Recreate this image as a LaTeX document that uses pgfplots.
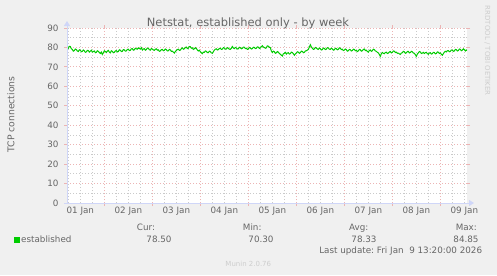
\documentclass[border=0pt]{standalone}
\usepackage{fontspec}
\setmainfont{DejaVu Sans}
\usepackage{pgfplots}
\pgfplotsset{compat=1.18}
\usetikzlibrary{arrows.meta}
\definecolor{bg}{HTML}{F0F0F0}
\definecolor{fontc}{HTML}{666666}
\definecolor{axisc}{HTML}{CFD6F8}
\definecolor{mgrid}{HTML}{ECB4B4}
\definecolor{gridc}{HTML}{CACACA}
\definecolor{linec}{HTML}{00CC00}
\definecolor{wm}{HTML}{CDCDCD}
\begin{document}
\begin{tikzpicture}[x=1bp,y=1bp]
\fill[bg] (0,0) rectangle (497,275);
\begin{axis}[at={(67bp,72bp)}, anchor=south west, scale only axis,
  width=400bp, height=175bp,
  xmin=5.3333, xmax=205.3333, ymin=0, ymax=90,
  axis background/.style={fill=white},
  axis line style={draw=none},
  /pgf/number format/assume math mode=true,
  ticklabel style={font=\fontsize{8.8}{10}\selectfont, text=fontc},
  xtick={24,48,72,96,120,144,168,192}, xticklabels={},
  minor xtick={6,12,...,204},
  extra x ticks={12,36,60,84,108,132,156,180,204},
  extra x tick labels={01 Jan,02 Jan,03 Jan,04 Jan,05 Jan,06 Jan,07 Jan,08 Jan,09 Jan},
  extra x tick style={grid=none, major tick length=0pt},
  ytick={0,10,...,90}, minor ytick={5,15,...,85},
  xmajorgrids=true, ymajorgrids=true, xminorgrids=true, yminorgrids=true,
  major grid style={mgrid, line width=0.8bp, dash pattern=on 1bp off 2bp},
  minor grid style={gridc, line width=0.8bp, dash pattern=on 1bp off 2bp},
  tick align=outside, major tick length=3bp, minor tick length=0pt,
  tick style={mgrid, line width=1bp, solid},
  yticklabel style={anchor=east, xshift=-2bp},
]
\addplot[linec, line width=1bp] coordinates {
(5.333,78.6)(5.5,79.2)(6,79.5)(6.5,80.6)(7,80.5)(7.5,79.3)(8,79.0)(8.5,78.1)(9,78.4)(9.5,79.2)(10,78.9)(10.5,78.2)(11,77.9)(11.5,78.8)(12,78.6)(12.5,77.8)(13,78.0)(13.5,78.7)(14,78.3)
(14.5,77.5)(15,77.7)(15.5,78.5)(16,78.4)(16.5,77.6)(17,78.1)(17.5,78.6)(18,77.6)(18.5,77.9)(19,78.2)(19.5,77.3)(20,77.5)(20.5,78.3)(21,78.0)(21.5,77.4)(22,76.9)(22.5,77.6)(23,76.4)(23.5,77.2)(24,78.3)
(24.5,77.9)(25,77.4)(25.5,78.1)(26,78.5)(26.5,77.6)(27,77.2)(27.5,78.3)(28,78.0)(28.5,77.3)(29,77.5)(29.5,78.2)(30,78.4)(30.5,77.7)(31,77.9)(31.5,78.8)(32,78.6)(32.5,77.9)(33,78.0)(33.5,78.9)(34,78.8)
(34.5,78.1)(35,78.2)(35.5,79.0)(36,79.1)(36.5,78.4)(37,78.5)(37.5,79.3)(38,79.4)(38.5,78.6)(39,78.8)(39.5,79.6)(40,79.3)(40.5,79.1)(41,79.8)(41.5,79.4)(42,79.2)(42.5,79.9)(43,78.7)(43.5,79.2)(44,79.4)
(44.5,78.6)(45,78.9)(45.5,79.7)(46,79.5)(46.5,78.9)(47,78.6)(47.5,79.4)(48,79.2)(48.5,78.7)(49,78.5)(49.5,79.1)(50,79.3)(50.5,78.6)(51,78.8)(51.5,78.0)(52,78.2)(52.5,78.9)(53,79.0)(53.5,78.3)(54,78.5)
(54.5,79.2)(55,78.9)(55.5,78.2)(56,78.3)(56.5,79.0)(57,78.7)(57.5,78.0)(58,78.1)(58.5,77.6)(59,77.1)(59.5,77.9)(60,78.4)(60.5,78.9)(61,79.1)(61.5,78.5)(62,78.6)(62.5,79.4)(63,79.8)(63.5,79.1)(64,79.3)
(64.5,80.0)(65,80.2)(65.5,79.4)(66,79.6)(66.5,80.5)(67,80.4)(67.5,79.6)(68,79.8)(68.5,79.0)(69,79.3)(69.5,79.9)(70,79.5)(70.5,78.7)(71,78.2)(71.5,78.6)(72,77.8)(72.5,77.3)(73,76.8)(73.5,77.6)(74,77.5)
(74.5,78.2)(75,78.0)(75.5,77.4)(76,77.3)(76.5,78.1)(77,77.9)(77.5,77.2)(78,77.0)(78.5,77.8)(79,78.6)(79.5,79.1)(80,79.3)(80.5,78.7)(81,78.9)(81.5,79.5)(82,79.6)(82.5,79.0)(83,79.1)(83.5,79.9)(84,79.8)
(84.5,79.1)(85,79.2)(85.5,79.9)(86,79.6)(86.5,79.1)(87,79.0)(87.5,79.6)(88,80.5)(88.5,79.7)(89,79.4)(89.5,80.0)(90,79.8)(90.5,79.2)(91,79.3)(91.5,80.1)(92,79.9)(92.5,79.3)(93,79.5)(93.5,80.2)(94,80.1)
(94.5,79.4)(95,79.6)(95.5,79.0)(96,79.2)(96.5,80.0)(97,79.8)(97.5,79.2)(98,79.4)(98.5,80.1)(99,80.0)(99.5,79.4)(100,79.6)(100.5,80.3)(101,80.2)(101.5,79.5)(102,79.7)(102.5,80.4)(103,80.9)(103.5,80.2)(104,80.0)
(104.5,79.6)(105,79.8)(105.5,80.8)(106,80.7)(106.5,80.1)(107,79.9)(107.5,78.2)(108,77.4)(108.5,78.1)(109,77.8)(109.5,77.0)(110,77.2)(110.5,77.9)(111,77.6)(111.5,76.9)(112,76.5)(112.5,76.0)(113,75.6)(113.5,76.7)(114,77.0)
(114.5,77.5)(115,76.6)(115.5,77.1)(116,77.3)(116.5,76.6)(117,76.8)(117.5,77.6)(118,77.4)(118.5,76.8)(119,76.0)(119.5,76.7)(120,77.1)(120.5,77.8)(121,77.6)(121.5,77.0)(122,77.3)(122.5,78.1)(123,78.0)(123.5,77.3)(124,77.5)
(124.5,78.2)(125,78.3)(125.5,78.6)(126,79.0)(126.5,80.2)(127,81.4)(127.5,80.3)(128,79.6)(128.5,79.0)(129,79.2)(129.5,80.0)(130,79.8)(130.5,79.2)(131,79.0)(131.5,79.7)(132,79.4)(132.5,78.7)(133,78.9)(133.5,79.7)(134,79.5)
(134.5,78.9)(135,79.1)(135.5,79.9)(136,79.7)(136.5,79.1)(137,79.0)(137.5,79.6)(138,79.3)(138.5,78.6)(139,78.8)(139.5,79.6)(140,79.4)(140.5,78.8)(141,79.0)(141.5,79.8)(142,79.6)(142.5,78.9)(143,79.1)(143.5,78.4)(144,78.6)
(144.5,79.2)(145,78.9)(145.5,78.1)(146,78.3)(146.5,79.0)(147,78.8)(147.5,78.2)(148,78.4)(148.5,79.1)(149,79.0)(149.5,78.3)(150,78.5)(150.5,77.9)(151,78.2)(151.5,79.0)(152,78.8)(152.5,78.1)(153,78.3)(153.5,79.0)(154,79.2)
(154.5,78.4)(155,78.6)(155.5,77.9)(156,77.6)(156.5,78.4)(157,78.7)(157.5,78.0)(158,78.3)(158.5,79.1)(159,78.9)(159.5,78.2)(160,78.0)(160.5,77.5)(161,77.2)(161.5,76.4)(162,75.4)(162.5,76.8)(163,77.4)(163.5,77.0)(164,76.8)
(164.5,77.4)(165,77.6)(165.5,76.9)(166,77.1)(166.5,77.7)(167,77.9)(167.5,77.2)(168,77.5)(168.5,78.2)(169,78.1)(169.5,77.4)(170,77.6)(170.5,77.0)(171,77.1)(171.5,76.7)(172,76.4)(172.5,77.1)(173,77.3)(173.5,78.0)(174,77.8)
(174.5,77.0)(175,77.2)(175.5,77.9)(176,78.0)(176.5,77.2)(177,77.4)(177.5,78.0)(178,77.8)(178.5,77.1)(179,77.0)(179.5,76.3)(180,75.4)(180.5,76.6)(181,77.2)(181.5,77.9)(182,77.7)(182.5,76.9)(183,77.1)(183.5,77.5)(184,76.9)
(184.5,77.3)(185,77.5)(185.5,76.8)(186,76.5)(186.5,77.2)(187,77.3)(187.5,76.6)(188,76.8)(188.5,77.5)(189,77.4)(189.5,76.7)(190,76.9)(190.5,77.7)(191,77.6)(191.5,76.9)(192,77.2)(192.5,76.5)(193,76.0)(193.5,76.8)(194,77.6)
(194.5,78.0)(195,77.7)(195.5,78.3)(196,78.4)(196.5,77.8)(197,78.0)(197.5,78.7)(198,78.6)(198.5,78.0)(199,78.2)(199.5,79.0)(200,78.9)(200.5,78.2)(201,78.4)(201.5,79.2)(202,79.0)(202.5,78.3)(203,78.6)(203.5,79.3)(204,78.9)
(204.5,78.2)(205,78.7)(205.333,78.5)
};
\end{axis}
\draw[axisc, line width=1bp, -{Triangle[length=5bp,width=6bp]}] (67,72) -- (67,254);
\draw[axisc, line width=1bp, -{Triangle[length=5bp,width=6bp]}] (64,72) -- (474,72);
\begin{scope}[every node/.style={text=fontc, inner sep=0pt}]
\node[anchor=base, font=\fontsize{11.5}{13}\selectfont] at (248,249) {Netstat, established only - by week};
\node[rotate=90, font=\fontsize{9.3}{11}\selectfont] at (11,160.5) {TCP connections};
\node[rotate=-90, font=\fontsize{7}{8}\selectfont, text=wm] at (487.5,224.2) {RRDTOOL / TOBI OETIKER};
\fill[linec] (14,32.3) rectangle (20,38.3);
\node[anchor=base west, font=\fontsize{8.8}{10}\selectfont] at (21,32.3) {established};
\node[anchor=base, font=\fontsize{8.8}{10}\selectfont] at (146,45) {Cur:};
\node[anchor=base, font=\fontsize{8.8}{10}\selectfont] at (159,32.3) {78.50};
\node[anchor=base, font=\fontsize{8.8}{10}\selectfont] at (252.2,45) {Min:};
\node[anchor=base, font=\fontsize{8.8}{10}\selectfont] at (261,32.3) {70.30};
\node[anchor=base, font=\fontsize{8.8}{10}\selectfont] at (358.8,45) {Avg:};
\node[anchor=base, font=\fontsize{8.8}{10}\selectfont] at (364,32.3) {78.33};
\node[anchor=base, font=\fontsize{8.8}{10}\selectfont] at (466.3,45) {Max:};
\node[anchor=base, font=\fontsize{8.8}{10}\selectfont] at (466,32.3) {84.85};
\node[anchor=base east, font=\fontsize{8.8}{10}\selectfont] at (482.3,21.5) {Last update:\ Fri Jan\ \ 9 13:20:00 2026};
\node[anchor=base, font=\fontsize{7}{8}\selectfont, text=wm] at (248.3,9) {Munin 2.0.76};
\end{scope}
\end{tikzpicture}
\end{document}
